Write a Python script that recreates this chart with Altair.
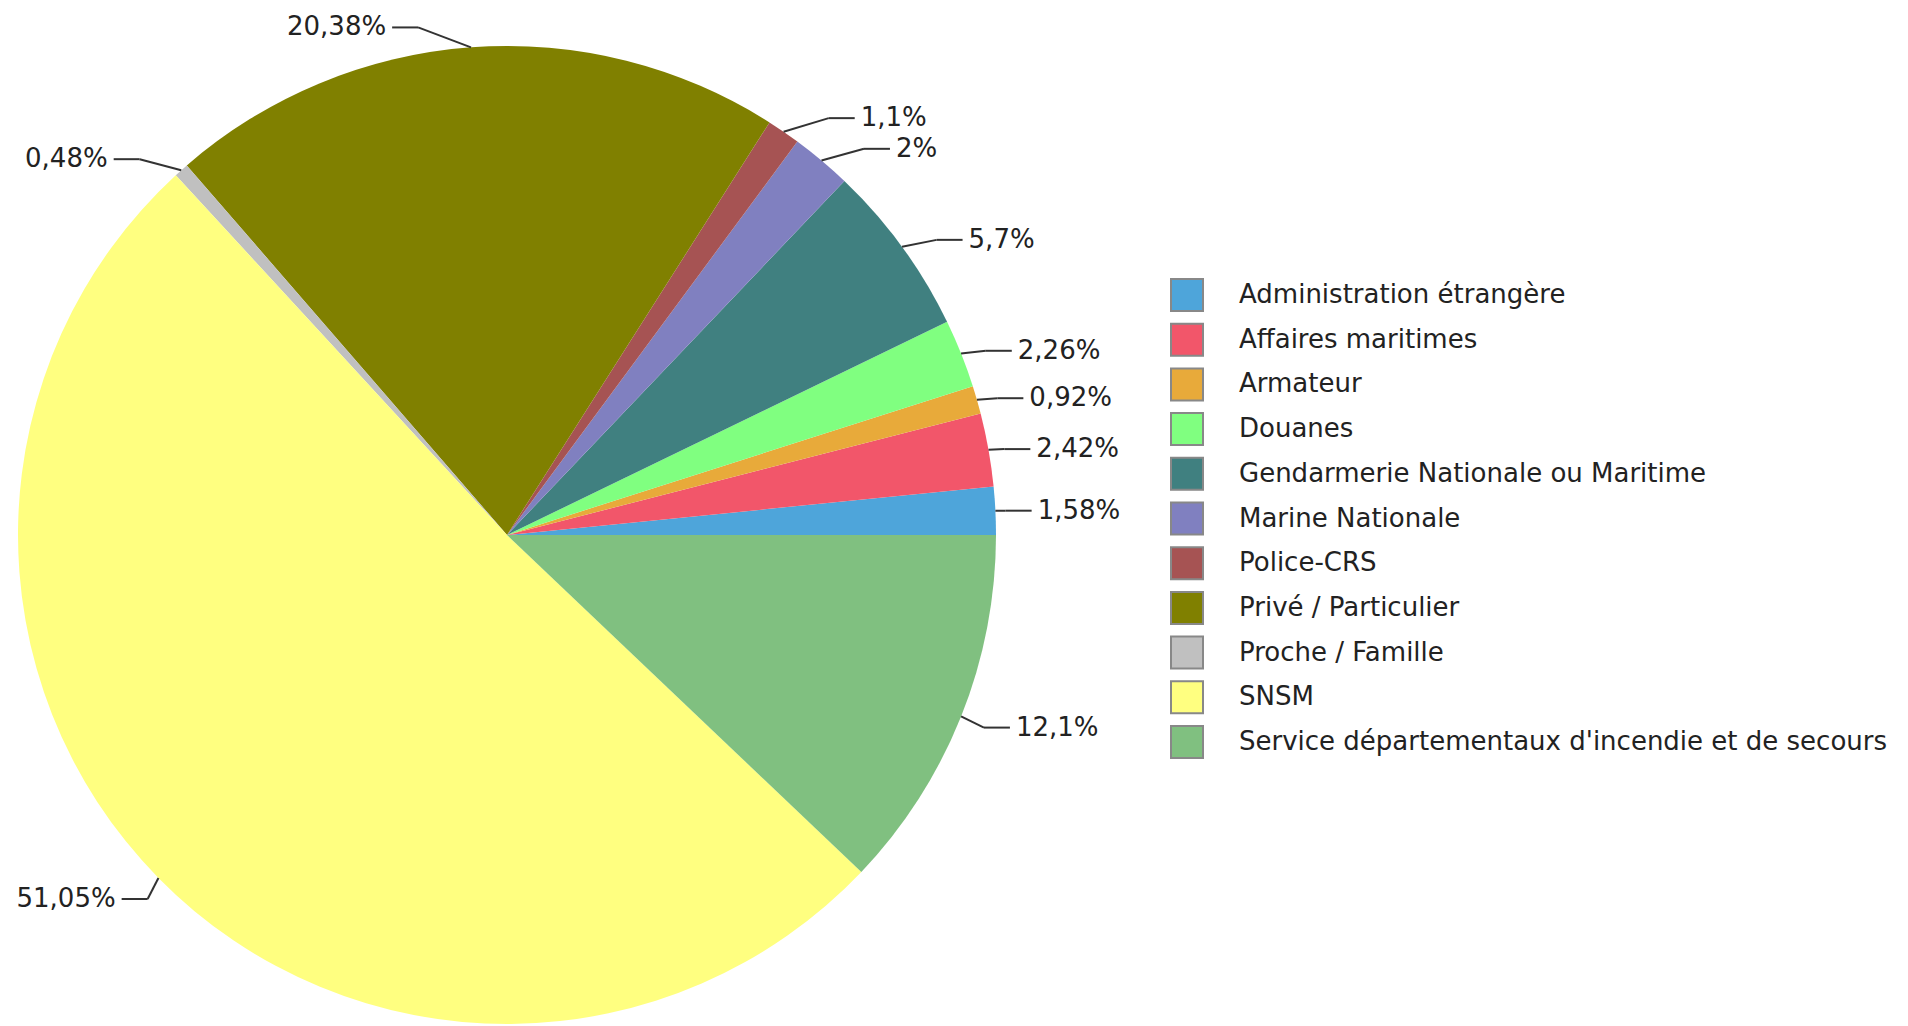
import math
import altair as alt
import pandas as pd

# ---- data (legend order) ----
categories = [
    "Administration étrangère",
    "Affaires maritimes",
    "Armateur",
    "Douanes",
    "Gendarmerie Nationale ou Maritime",
    "Marine Nationale",
    "Police-CRS",
    "Privé / Particulier",
    "Proche / Famille",
    "SNSM",
    "Service départementaux d'incendie et de secours",
]
values = [1.58, 2.42, 0.92, 2.26, 5.7, 2.0, 1.1, 20.38, 0.48, 51.05, 12.1]
colors = [
    "#4EA5DA", "#F2566A", "#E8AA3A", "#80FF80", "#408080", "#8080C0",
    "#A65353", "#808000", "#C0C0C0", "#FFFF80", "#80C080",
]
labels = [("%g" % v).replace(".", ",") + "%" for v in values]
# slices are drawn clockwise from 3 o'clock in reverse legend order
draw_order = [len(values) - 1 - i for i in range(len(values))]

df = pd.DataFrame({
    "category": categories,
    "value": values,
    "label": labels,
    "ord": draw_order,
})

CX, CY, R = 499, 527, 489
FONT = "DejaVu Sans"
FS = 26

color = alt.Color(
    "category:N",
    scale=alt.Scale(domain=categories, range=colors),
    legend=alt.Legend(
        orient="none", legendX=1162, legendY=270, title=None,
        symbolType="square", symbolSize=1024, symbolStrokeColor="#888888",
        symbolStrokeWidth=2, symbolOpacity=1,
        labelFontSize=FS, labelFont=FONT, labelColor="#222222",
        rowPadding=4.7, labelOffset=35, labelLimit=1000, padding=0,
    ),
)

base = alt.Chart(df)

pie = base.mark_arc(outerRadius=R).encode(
    theta=alt.Theta("value:Q", stack=True,
                    scale=alt.Scale(range=[math.pi / 2, math.pi / 2 + 2 * math.pi])),
    color=color,
    order=alt.Order("ord:Q"),
    x=alt.value(CX),
    y=alt.value(CY),
)

geom = (
    base.transform_window(
        cum="sum(value)",
        sort=[alt.SortField("ord", order="ascending")],
        frame=[None, 0],
    )
    .transform_joinaggregate(total="sum(value)")
    .transform_calculate(mid="(datum.cum - datum.value / 2) / datum.total * 2 * PI")
    .transform_calculate(s="sin(datum.mid)", c="cos(datum.mid)")
    .transform_calculate(side="datum.c >= 0 ? 1 : -1")
    .transform_calculate(
        ax=f"{CX} + {R} * datum.c",
        ay=f"{CY} + {R} * datum.s",
    )
    .transform_calculate(
        ex="datum.ax + datum.side * (8 + 45 * max(0, -datum.s)"
           " + (datum.side > 0 ? 40 : 4) * max(0, datum.s))",
        ey="datum.ay + (datum.s < 0 ? 20 * datum.s * abs(datum.s) : 30 * datum.s)",
    )
    .transform_calculate(hx="datum.ex + datum.side * 26")
    .transform_calculate(tx="datum.hx + datum.side * 6")
)

X = lambda f: alt.X(f, scale=None, axis=None)
Y = lambda f: alt.Y(f, scale=None, axis=None)

lead1 = geom.mark_rule(color="#333333", strokeWidth=2).encode(
    x=X("ax:Q"), y=Y("ay:Q"), x2="ex:Q", y2="ey:Q")
lead2 = geom.mark_rule(color="#333333", strokeWidth=2).encode(
    x=X("ex:Q"), y=Y("ey:Q"), x2="hx:Q", y2="ey:Q")

txt_r = geom.transform_filter("datum.side > 0").mark_text(
    align="left", baseline="middle", fontSize=FS, font=FONT, color="#222222"
).encode(x=X("tx:Q"), y=Y("ey:Q"), text="label:N")
txt_l = geom.transform_filter("datum.side < 0").mark_text(
    align="right", baseline="middle", fontSize=FS, font=FONT, color="#222222"
).encode(x=X("tx:Q"), y=Y("ey:Q"), text="label:N")

chart = (
    alt.layer(pie, lead1, lead2, txt_r, txt_l)
    .properties(width=1892, height=1018, padding=0,
                autosize=alt.AutoSizeParams(type="none"))
    .configure_view(strokeWidth=0)
)

chart.save("out.html", embed_options={"renderer": "svg", "actions": False})
